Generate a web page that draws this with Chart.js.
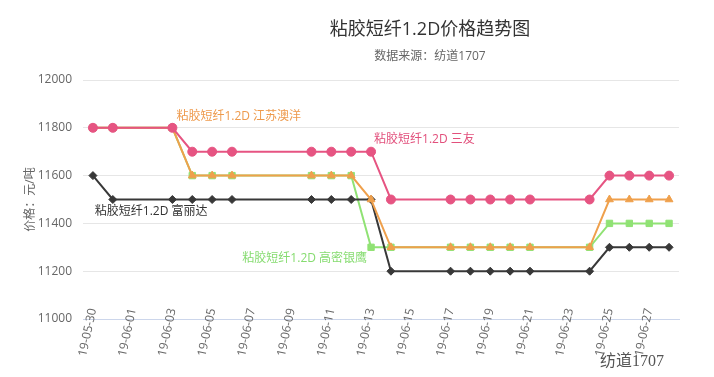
<!DOCTYPE html>
<html>
<head>
<meta charset="utf-8">
<script src="https://cdn.jsdelivr.net/npm/chart.js@4.4.1/dist/chart.umd.min.js"></script>
<style>
  html, body { margin: 0; background: #fff; }
  #wrap { width: 714px; height: 377px; position: relative; }
</style>
</head>
<body>
<div id="wrap"><canvas id="c"></canvas></div>
<script>
// dates 19-05-30 .. 19-06-28, null = no quote that day
const dates = ['19-05-30','19-05-31','19-06-01','19-06-02','19-06-03','19-06-04','19-06-05','19-06-06','19-06-07','19-06-08',
  '19-06-09','19-06-10','19-06-11','19-06-12','19-06-13','19-06-14','19-06-15','19-06-16','19-06-17','19-06-18',
  '19-06-19','19-06-20','19-06-21','19-06-22','19-06-23','19-06-24','19-06-25','19-06-26','19-06-27','19-06-28'];

const sanyou  = [11800,11800,null,null,11800,11700,11700,11700,null,null,null,11700,11700,11700,11700,11500,null,null,11500,11500,11500,11500,11500,null,null,11500,11600,11600,11600,11600];
const jiangsu = [11800,11800,null,null,11800,11600,11600,11600,null,null,null,11600,11600,11600,11500,11300,null,null,11300,11300,11300,11300,11300,null,null,11300,11500,11500,11500,11500];
const fulida  = [11600,11500,null,null,11500,11500,11500,11500,null,null,null,11500,11500,11500,11500,11200,null,null,11200,11200,11200,11200,11200,null,null,11200,11300,11300,11300,11300];
const gaomi   = [11800,11800,null,null,11800,11600,11600,11600,null,null,null,11600,11600,11600,11300,11300,null,null,11300,11300,11300,11300,11300,null,null,11300,11400,11400,11400,11400];

const yTicks = [11000, 11200, 11400, 11600, 11800, 12000];

const FONT = '"Open Sans", "Noto Sans CJK SC", sans-serif';

// series name labels, anchored to one point of each series
const seriesLabels = [
  { ds: 1, idx: 4,  text: '粘胶短纤1.2D 江苏澳洋', color: '#ee9a4c', dx: 4,   dy: -11, align: 'left' },
  { ds: 0, idx: 14, text: '粘胶短纤1.2D 三友',     color: '#e2507c', dx: 3,   dy: -12, align: 'left' },
  { ds: 2, idx: 1,  text: '粘胶短纤1.2D 富丽达',   color: '#333333', dx: -18, dy: 12,  align: 'left' },
  { ds: 3, idx: 14, text: '粘胶短纤1.2D 高密银鹰', color: '#86dc70', dx: -4,  dy: 11,  align: 'right' }
];

const textPlugin = {
  id: 'texts',
  afterDatasetsDraw(chart) {
    const ctx = chart.ctx;
    ctx.save();
    ctx.textBaseline = 'middle';
    seriesLabels.forEach(l => {
      const pt = chart.getDatasetMeta(l.ds).data[l.idx];
      ctx.font = '12px ' + FONT;
      ctx.fillStyle = l.color;
      ctx.textAlign = l.align;
      ctx.fillText(l.text, pt.x + l.dx, pt.y + l.dy);
    });
    ctx.restore();
  },
  afterDraw(chart) {
    const ctx = chart.ctx;
    ctx.save();
    ctx.textAlign = 'center';
    ctx.textBaseline = 'middle';
    ctx.fillStyle = '#333';
    ctx.font = '18px ' + FONT;
    ctx.fillText('粘胶短纤1.2D价格趋势图', 430, 30);
    ctx.fillStyle = '#666';
    ctx.font = '12px ' + FONT;
    ctx.fillText('数据来源：纺道1707', 430, 57);
    // wechat watermark
    ctx.fillStyle = '#555';
    ctx.font = '16px "Liberation Serif", "Noto Sans CJK SC", serif';
    ctx.textAlign = 'left';
    ctx.fillText('纺道1707', 600, 362);
    ctx.restore();
  }
};

new Chart(document.getElementById('c'), {
  type: 'line',
  data: {
    labels: dates,
    datasets: [
      { label: '三友', data: sanyou, borderColor: '#e65482', backgroundColor: '#e65482',
        pointStyle: 'circle', pointRadius: 4.5 },
      { label: '江苏澳洋', data: jiangsu, borderColor: '#efa04c', backgroundColor: '#efa04c',
        pointStyle: 'triangle', pointRadius: 4.5 },
      { label: '富丽达', data: fulida, borderColor: '#383838', backgroundColor: '#383838',
        pointStyle: 'rectRot', pointRadius: 4 },
      { label: '高密银鹰', data: gaomi, borderColor: '#90e274', backgroundColor: '#90e274',
        pointStyle: 'rect', pointRadius: 4.5 }
    ]
  },
  options: {
    responsive: true,
    maintainAspectRatio: false,
    animation: false,
    spanGaps: true,
    elements: {
      line: { borderWidth: 2, tension: 0 },
      point: { borderWidth: 1, hoverRadius: 5 }
    },
    layout: { padding: { top: 80, right: 35, left: 0, bottom: 0 } },
    plugins: {
      legend: { display: false },
      title: { display: false },
      tooltip: { enabled: false }
    },
    scales: {
      x: {
        offset: true,
        grid: { display: false },
        border: { color: '#ccd6eb' },
        afterFit(scale) { scale.height = 58; },
        // let the rotated date labels poke above the axis line like the original
        afterUpdate(scale) { scale._computeLabelArea = () => undefined; },
        ticks: {
          autoSkip: false,
          minRotation: 78,
          maxRotation: 78,
          padding: -20,
          color: '#666',
          font: { family: FONT, size: 12 },
          callback(value, index) { return index % 2 === 0 ? this.getLabelForValue(value) : ''; }
        }
      },
      y: {
        min: 11000,
        max: 12000,
        afterFit(scale) { scale.width = 83; },
        afterBuildTicks(scale) { scale.ticks = yTicks.map(v => ({ value: v })); },
        grid: { color: '#e6e6e6', drawTicks: false },
        border: { display: false },
        ticks: {
          padding: 11, color: '#666', font: { family: FONT, size: 12 },
          callback: v => String(v)
        },
        title: {
          display: true,
          text: '价格：元/吨',
          color: '#666',
          font: { family: FONT, size: 12 },
          padding: { top: 23, bottom: 0 }
        }
      }
    }
  },
  plugins: [textPlugin]
});
</script>
</body>
</html>
